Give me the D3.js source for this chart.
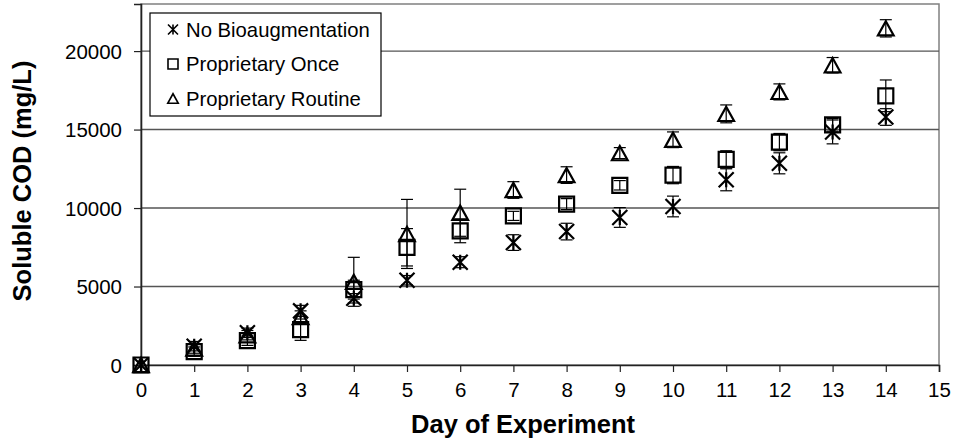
<!DOCTYPE html>
<html>
<head>
<meta charset="utf-8">
<script src="https://cdn.jsdelivr.net/npm/d3@7"></script>
<style>
  html, body { margin: 0; padding: 0; background: #fff; }
  svg { display: block; font-family: "Liberation Sans", Arial, sans-serif; }
</style>
</head>
<body>
<svg id="chart" width="956" height="446"></svg>
<script>
// Day of experiment
const days = [0, 1, 2, 3, 4, 5, 6, 7, 8, 9, 10, 11, 12, 13, 14];

// Soluble COD (mg/L) and error (+/-) for each treatment
const noBio      = [0, 1200, 2050, 3450, 4250, 5400, 6550, 7800, 8500, 9400, 10100, 11800, 12850, 14850, 15800];
const noBioErr   = [0, 300, 300, 350, 300, 300, 350, 500, 530, 630, 660, 700, 670, 760, 530];
const propOnce    = [0, 850, 1550, 2250, 4800, 7500, 8550, 9500, 10250, 11450, 12100, 13100, 14200, 15300, 17150];
const propOnceErr = [0, 300, 300, 680, 600, 1190, 760, 290, 350, 300, 550, 550, 550, 400, 1010];
const propRoutine    = [0, 1050, 1900, 3050, 5300, 8350, 9700, 11150, 12100, 13500, 14350, 16000, 17400, 19100, 21450];
const propRoutineErr = [0, 300, 300, 400, 1560, 2200, 1500, 530, 530, 350, 500, 570, 510, 490, 550];

const seriesNames = ["No Bioaugmentation", "Proprietary Once", "Proprietary Routine"];
const seriesShapes = ["star", "square", "triangle"];

const xTicks = d3.range(0, 16, 1);
const yTicks = [0, 5000, 10000, 15000, 20000];

const svg = d3.select("#chart");
const plot = { left: 141, right: 939, top: 4, bottom: 365 };

const x = d3.scaleLinear().domain([0, 15]).range([plot.left, plot.right]);
const y = d3.scaleLinear().domain([0, 23000]).range([plot.bottom, plot.top]);

// plot frame
svg.append("rect")
  .attr("x", plot.left).attr("y", plot.top)
  .attr("width", plot.right - plot.left).attr("height", plot.bottom - plot.top)
  .attr("fill", "#fff").attr("stroke", "#808080").attr("stroke-width", 1.5);

// horizontal gridlines
svg.append("g").selectAll("line")
  .data(yTicks.filter(d => d > 0))
  .join("line")
  .attr("x1", plot.left).attr("x2", plot.right)
  .attr("y1", d => y(d)).attr("y2", d => y(d))
  .attr("stroke", "#555").attr("stroke-width", 1.4);

// axes
const xAxis = d3.axisBottom(x).tickValues(xTicks).tickSize(7).tickPadding(10).tickFormat(d3.format("d"));
const yAxis = d3.axisLeft(y).tickValues(yTicks).tickSize(7).tickPadding(12).tickFormat(d3.format("d"));

const gx = svg.append("g").attr("transform", `translate(0,${plot.bottom})`).call(xAxis);
const gy = svg.append("g").attr("transform", `translate(${plot.left},0)`).call(yAxis);

[gx, gy].forEach(g => {
  g.select(".domain").attr("stroke", "#222").attr("stroke-width", 1.6);
  g.selectAll(".tick line").attr("stroke", "#222").attr("stroke-width", 1.2);
  g.selectAll(".tick text")
    .attr("font-family", "'Liberation Sans', Arial, sans-serif")
    .attr("font-size", 20.5).attr("fill", "#000");
});
gy.selectAll(".tick text").attr("dy", "0.36em");

// axis titles
svg.append("text")
  .attr("x", 523).attr("y", 433)
  .attr("text-anchor", "middle")
  .attr("font-size", 25.5).attr("font-weight", "bold")
  .text("Day of Experiment");

svg.append("text")
  .attr("transform", `translate(31,181) rotate(-90)`)
  .attr("text-anchor", "middle")
  .attr("font-size", 25.5).attr("font-weight", "bold")
  .text("Soluble COD (mg/L)");

// marker path generators
function markerPath(shape, s) {
  if (shape === "star") {
    return `M${-s},${-s}L${s},${s}M${-s},${s}L${s},${-s}M0,${-s}L0,${s}`;
  }
  if (shape === "square") {
    return `M${-s},${-s}H${s}V${s}H${-s}Z`;
  }
  // triangle
  const h = s * 0.95;
  return `M0,${-h}L${s * 1.05},${h}L${-s * 1.05},${h}Z`;
}

const seriesData = [
  { name: seriesNames[0], shape: seriesShapes[0], vals: noBio, errs: noBioErr },
  { name: seriesNames[1], shape: seriesShapes[1], vals: propOnce, errs: propOnceErr },
  { name: seriesNames[2], shape: seriesShapes[2], vals: propRoutine, errs: propRoutineErr }
];

const capW = 6;
seriesData.forEach(s => {
  const pts = days.map((d, i) => ({ d, v: s.vals[i], e: s.errs[i] }));
  const g = svg.append("g");

  // error bars
  const eb = g.append("g").selectAll("g").data(pts.filter(p => p.e > 0)).join("g");
  eb.append("line")
    .attr("x1", p => x(p.d)).attr("x2", p => x(p.d))
    .attr("y1", p => y(p.v + p.e)).attr("y2", p => y(p.v - p.e))
    .attr("stroke", "#000").attr("stroke-width", 1.2);
  [1, -1].forEach(sign => {
    eb.append("line")
      .attr("x1", p => x(p.d) - capW).attr("x2", p => x(p.d) + capW)
      .attr("y1", p => y(p.v + sign * p.e)).attr("y2", p => y(p.v + sign * p.e))
      .attr("stroke", "#000").attr("stroke-width", 1.2);
  });

  // markers
  g.append("g").selectAll("path").data(pts).join("path")
    .attr("transform", p => `translate(${x(p.d)},${y(p.v)})`)
    .attr("d", markerPath(s.shape, 7.5))
    .attr("fill", "none").attr("stroke", "#000").attr("stroke-width", 2.2);
});

// legend
const legend = svg.append("g");
legend.append("rect")
  .attr("x", 150).attr("y", 13).attr("width", 231).attr("height", 103)
  .attr("fill", "#fff").attr("stroke", "#000").attr("stroke-width", 1.2);

const rowsY = [29.5, 64, 98.5];
seriesData.forEach((s, i) => {
  legend.append("path")
    .attr("transform", `translate(173,${rowsY[i]})`)
    .attr("d", markerPath(s.shape, 5))
    .attr("fill", "none").attr("stroke", "#000").attr("stroke-width", 1.6);
  legend.append("text")
    .attr("x", 186).attr("y", rowsY[i]).attr("dy", "0.36em")
    .attr("font-size", 20.3)
    .text(s.name);
});
</script>
</body>
</html>
